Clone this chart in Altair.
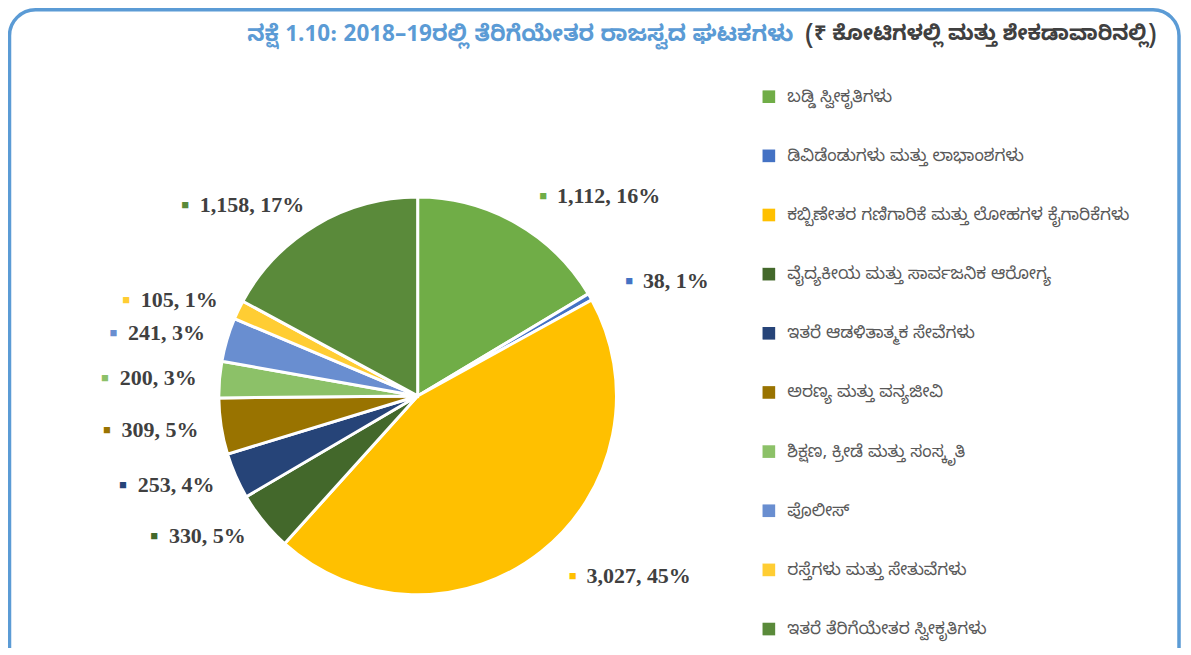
import altair as alt
import pandas as pd

categories = [
    "ಬಡ್ಡಿ ಸ್ವೀಕೃತಿಗಳು",
    "ಡಿವಿಡೆಂಡುಗಳು ಮತ್ತು ಲಾಭಾಂಶಗಳು",
    "ಕಬ್ಬಿಣೇತರ ಗಣಿಗಾರಿಕೆ ಮತ್ತು ಲೋಹಗಳ ಕೈಗಾರಿಕೆಗಳು",
    "ವೈದ್ಯಕೀಯ ಮತ್ತು ಸಾರ್ವಜನಿಕ ಆರೋಗ್ಯ",
    "ಇತರೆ ಆಡಳಿತಾತ್ಮಕ ಸೇವೆಗಳು",
    "ಅರಣ್ಯ ಮತ್ತು ವನ್ಯಜೀವಿ",
    "ಶಿಕ್ಷಣ, ಕ್ರೀಡೆ ಮತ್ತು ಸಂಸ್ಕೃತಿ",
    "ಪೊಲೀಸ್",
    "ರಸ್ತೆಗಳು ಮತ್ತು ಸೇತುವೆಗಳು",
    "ಇತರೆ ತೆರಿಗೆಯೇತರ ಸ್ವೀಕೃತಿಗಳು",
]
values = [1112, 38, 3027, 330, 253, 309, 200, 241, 105, 1158]
percent_labels = ["16%", "1%", "45%", "5%", "4%", "5%", "3%", "3%", "1%", "17%"]
colors = ["#70AD47", "#4472C4", "#FFC000", "#43682B", "#264478",
          "#997300", "#8CC168", "#698ED0", "#FFCD33", "#5A8A3A"]

title_main = "ನಕ್ಷೆ 1.10: 2018–19ರಲ್ಲಿ ತೆರಿಗೆಯೇತರ ರಾಜಸ್ವದ ಘಟಕಗಳು"
title_unit = "(₹ ಕೋಟಿಗಳಲ್ಲಿ ಮತ್ತು ಶೇಕಡಾವಾರಿನಲ್ಲಿ)"

KN = "Noto Sans Kannada, Tunga, Nirmala UI, Noto Sans, DejaVu Sans, sans-serif"
SERIF = "Liberation Serif, Times New Roman, serif"
CX, CY = 410, 388
R = 199
LR_RIGHT = 230
LR_LEFT = 222
FS = 22
GAP = 10

# advance widths (per 1000 em) of Times/Liberation Serif Bold, used to place
# the small colour key in front of right-aligned labels
ADV = {**{d: 500 for d in "0123456789"}, ",": 250, " ": 250, "%": 1000}

df = pd.DataFrame({
    "category": categories,
    "value": values,
    "pct": percent_labels,
    "order": list(range(len(categories))),
})
df["label"] = [f"{v:,}, {p}" for v, p in zip(values, percent_labels)]
df["moff"] = [-(sum(ADV.get(c, 500) for c in l) * FS / 1000 + GAP) for l in df["label"]]

cscale = alt.Scale(domain=categories, range=colors)
color = alt.Color(
    "category:N",
    scale=cscale,
    legend=alt.Legend(
        title=None, orient="none", legendX=753, legendY=80,
        symbolType="square", symbolSize=160, symbolStrokeWidth=0,
        labelFont=KN, labelFontSize=17, labelColor="#595959",
        labelOffset=10, rowPadding=41.2, labelLimit=500,
    ),
)

base = alt.Chart(df)

border = base.transform_filter("datum.order == 0").mark_rect(
    cornerRadius=26, fill="transparent", stroke="#5B9BD5", strokeWidth=3.5
).encode(x=alt.value(1.5), x2=alt.value(1172), y=alt.value(1.5), y2=alt.value(700))

pie = base.mark_arc(outerRadius=R, stroke="white", strokeWidth=3).encode(
    theta=alt.Theta("value:Q", stack=True),
    order=alt.Order("order:Q"),
    color=color,
    x=alt.value(CX), y=alt.value(CY),
)

lab = base.transform_window(
    cum="sum(value)", sort=[alt.SortField("order")], frame=[None, 0]
).transform_joinaggregate(total="sum(value)").transform_calculate(
    mid="(datum.cum - datum.value / 2) / datum.total * 2 * PI"
).transform_calculate(side="datum.mid < PI ? 'R' : 'L'", pt="'\u25aa'")

theta_mid = alt.Theta("mid:Q", scale=None)
mcolor = alt.Color("category:N", legend=None, scale=cscale)

right_mark = lab.transform_filter("datum.side == 'R'").mark_text(
    radius=LR_RIGHT, align="left", baseline="middle", font=SERIF, fontSize=25,
    fontWeight="bold", dx=8
).encode(theta=theta_mid, text="pt:N", color=mcolor,
         x=alt.value(CX), y=alt.value(CY))

right_text = lab.transform_filter("datum.side == 'R'").mark_text(
    radius=LR_RIGHT, align="left", baseline="middle", font=SERIF, fontSize=FS,
    fontWeight="bold", color="#404040", dx=26
).encode(theta=theta_mid, text="label:N", x=alt.value(CX), y=alt.value(CY))

left_mark = lab.transform_filter("datum.side == 'L'").mark_text(
    radius=LR_LEFT, align="right", baseline="middle", font=SERIF, fontSize=25,
    fontWeight="bold"
).encode(theta=theta_mid, text="pt:N", color=mcolor,
         x=alt.value(CX), y=alt.value(CY),
         xOffset=alt.XOffset("moff:Q", scale=None))

left_text = lab.transform_filter("datum.side == 'L'").mark_text(
    radius=LR_LEFT, align="right", baseline="middle", font=SERIF, fontSize=FS,
    fontWeight="bold", color="#404040"
).encode(theta=theta_mid, text="label:N", x=alt.value(CX), y=alt.value(CY))

t1 = base.transform_filter("datum.order == 0").mark_text(
    align="right", baseline="middle", font=KN, fontSize=22.5, fontWeight="bold",
    color="#5B9BD5"
).encode(text=alt.value(title_main), x=alt.value(786), y=alt.value(26))

t2 = base.transform_filter("datum.order == 0").mark_text(
    align="left", baseline="middle", font=KN, fontSize=21, fontWeight="bold",
    color="#404040"
).encode(text=alt.value(title_unit), x=alt.value(798), y=alt.value(26))

chart = alt.layer(
    border, pie, right_mark, right_text, left_mark, left_text, t1, t2
).resolve_scale(theta="independent").properties(
    width=1176, height=640, padding=0,
    autosize=alt.AutoSizeParams(type="none"),
).configure_view(stroke=None)

chart.save("out.html", embed_options={"renderer": "svg", "actions": False})
